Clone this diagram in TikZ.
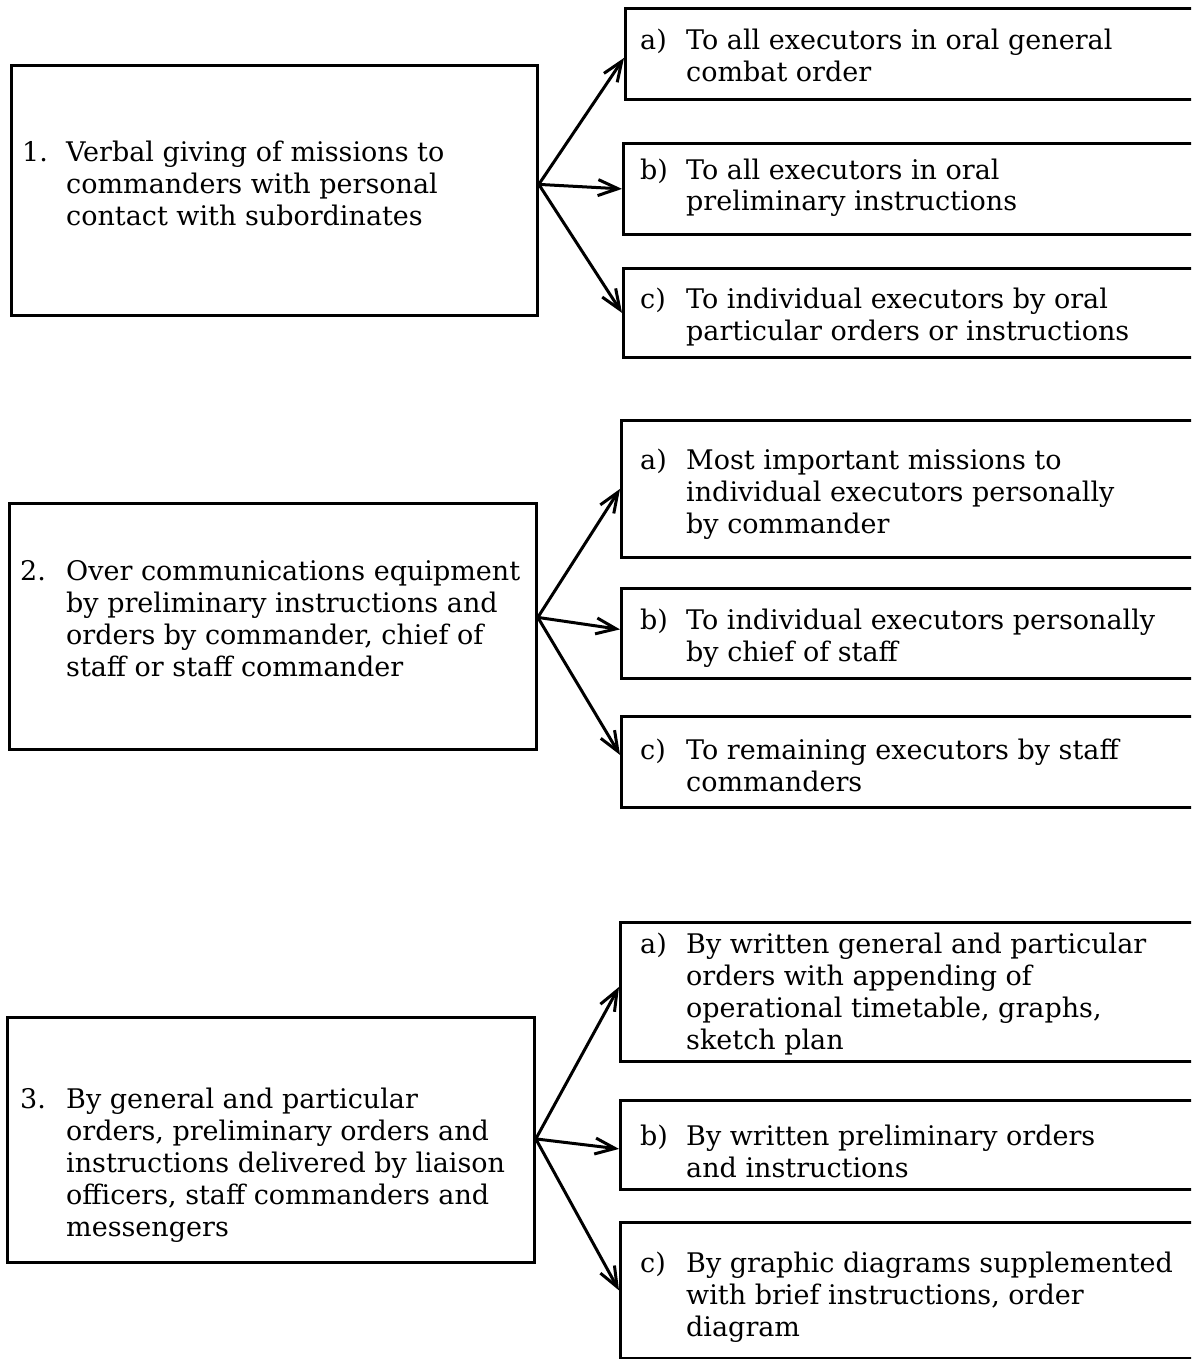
\documentclass[tikz,border=0pt]{standalone}
\usepackage{fontspec}
\setmainfont{DejaVu Serif}
\usetikzlibrary{arrows.meta,calc}
\begin{document}
\begin{tikzpicture}[x=1pt,y=-1pt,
  box/.style={draw, line width=2.8pt, inner sep=0pt, anchor=north west},
  txt/.style={anchor=base west, inner sep=0pt, font=\fontsize{27}{32}\selectfont},
  conn/.style={line width=3pt, -{Straight Barb[length=20pt,width=16pt,line width=3pt]}}]
\clip (0,0) rectangle (1191,1359);
\useasboundingbox (0,0) rectangle (1191,1359);
% left boxes
\node[box, minimum width=526pt, minimum height=250pt] (b1) at (10,64) {};
\node[box, minimum width=527pt, minimum height=246pt] (b2) at (8,502) {};
\node[box, minimum width=527pt, minimum height=245pt] (b3) at (6,1016) {};
% right boxes
\node[box, minimum width=580pt, minimum height=91pt] (b1a) at (624,7) {};
\node[box, minimum width=580pt, minimum height=91pt] (b1b) at (622,142) {};
\node[box, minimum width=580pt, minimum height=89pt] (b1c) at (622,267) {};
\node[box, minimum width=580pt, minimum height=137pt] (b2a) at (620,419) {};
\node[box, minimum width=580pt, minimum height=90pt] (b2b) at (620,587) {};
\node[box, minimum width=580pt, minimum height=91pt] (b2c) at (620,715) {};
\node[box, minimum width=580pt, minimum height=139pt] (b3a) at (619,921) {};
\node[box, minimum width=580pt, minimum height=89pt] (b3b) at (619,1099) {};
\node[box, minimum width=580pt, minimum height=136pt] (b3c) at (619,1221) {};
% texts
\node[txt] (t1) at (22,162) {\begin{tabular}[t]{@{}p{44pt}@{}l@{}}1. & Verbal giving of missions to\\ & commanders with personal\\ & contact with subordinates\end{tabular}};
\node[txt] (t2) at (20,580) {\begin{tabular}[t]{@{}p{46pt}@{}l@{}}2. & Over communications equipment\\ & by preliminary instructions and\\ & orders by commander, chief of\\ & staff or staff commander\end{tabular}};
\node[txt] (t3) at (20,1108) {\begin{tabular}[t]{@{}p{46pt}@{}l@{}}3. & By general and particular\\ & orders, preliminary orders and\\ & instructions delivered by liaison\\ & officers, staff commanders and\\ & messengers\end{tabular}};
\node[txt] (t1a) at (640,50) {\begin{tabular}[t]{@{}p{46pt}@{}l@{}}a) & To all executors in oral general\\ & combat order\end{tabular}};
\node[txt] (t1b) at (640,179) {\begin{tabular}[t]{@{}p{46pt}@{}l@{}}b) & To all executors in oral\\ & preliminary instructions\end{tabular}};
\node[txt] (t1c) at (640,308) {\begin{tabular}[t]{@{}p{46pt}@{}l@{}}c) & To individual executors by oral\\ & particular orders or instructions\end{tabular}};
\node[txt] (t2a) at (640,469) {\begin{tabular}[t]{@{}p{46pt}@{}l@{}}a) & Most important missions to\\ & individual executors personally\\ & by commander\end{tabular}};
\node[txt] (t2b) at (640,629) {\begin{tabular}[t]{@{}p{46pt}@{}l@{}}b) & To individual executors personally\\ & by chief of staff\end{tabular}};
\node[txt] (t2c) at (640,759) {\begin{tabular}[t]{@{}p{46pt}@{}l@{}}c) & To remaining executors by staff\\ & commanders\end{tabular}};
\node[txt] (t3a) at (640,953) {\begin{tabular}[t]{@{}p{46pt}@{}l@{}}a) & By written general and particular\\ & orders with appending of\\ & operational timetable, graphs,\\ & sketch plan\end{tabular}};
\node[txt] (t3b) at (640,1145) {\begin{tabular}[t]{@{}p{46pt}@{}l@{}}b) & By written preliminary orders\\ & and instructions\end{tabular}};
\node[txt] (t3c) at (640,1272) {\begin{tabular}[t]{@{}p{46pt}@{}l@{}}c) & By graphic diagrams supplemented\\ & with brief instructions, order\\ & diagram\end{tabular}};
% origins
\coordinate (o1) at ($(b1.east)+(0,-6)$);
\coordinate (o2) at ($(b2.east)+(0,-9)$);
\coordinate (o3) at ($(b3.east)+(0,-1)$);
% connectors
\draw[conn] (o1) -- ($(b1a.west)+(0,4)$);
\draw[conn] (o1) -- (b1b.west);
\draw[conn] (o1) -- (b1c.west);
\draw[conn] (o2) -- (b2a.west);
\draw[conn] (o2) -- ($(b2b.west)+(0,-4)$);
\draw[conn] (o2) -- ($(b2c.west)+(0,-7)$);
\draw[conn] (o3) -- ($(b3a.west)+(0,-5)$);
\draw[conn] (o3) -- ($(b3b.west)+(0,4)$);
\draw[conn] (o3) -- (b3c.west);
\end{tikzpicture}
\end{document}
